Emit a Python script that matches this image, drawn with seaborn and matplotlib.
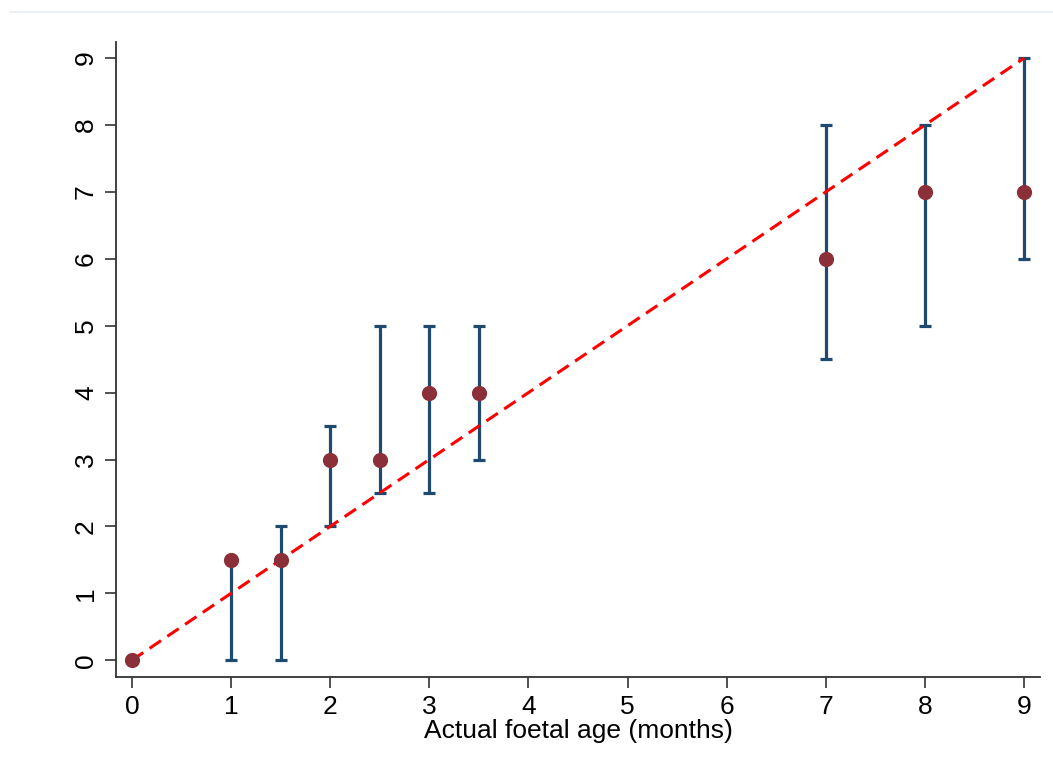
import matplotlib
matplotlib.use("Agg")
import matplotlib.pyplot as plt
import seaborn as sns
import pandas as pd

ages = [0, 1, 1.5, 2, 2.5, 3, 3.5, 7, 8, 9]
estimates = [0, 1.5, 1.5, 3, 3, 4, 4, 6, 7, 7]
lower = [0, 0, 0, 2, 2.5, 2.5, 3, 4.5, 5, 6]
upper = [0, 1.5, 2, 3.5, 5, 5, 5, 8, 8, 9]
ticks = [0, 1, 2, 3, 4, 5, 6, 7, 8, 9]
diag = [0, 9]

sns.set_theme(style="white")
plt.rcParams['font.family'] = ['Liberation Sans', 'DejaVu Sans']

df = pd.DataFrame({"age": ages, "est": estimates, "lo": lower, "hi": upper})

fig = plt.figure(figsize=(10.53, 7.69), dpi=100)
ax = fig.add_axes([116/1053, 1-677/769, (1040-116)/1053, (677-42)/769])

navy = "#1f4a70"
maroon = "#8b3038"

for a, lo, hi in zip(df["age"], df["lo"], df["hi"]):
    ax.plot([a, a], [lo, hi], color=navy, lw=2.3, zorder=2, solid_capstyle="butt")
    for v in (lo, hi):
        ax.plot([a - 0.06, a + 0.06], [v, v], color=navy, lw=2.3, zorder=2, solid_capstyle="butt")

sns.lineplot(x=diag, y=diag, ax=ax, color="#ff0000", lw=2.2, linestyle=(0, (4.5, 2.5)), zorder=3)
sns.scatterplot(data=df, x="age", y="est", ax=ax, color=maroon, s=120, edgecolor=maroon, linewidth=0, zorder=4)

ax.set_xlim(-0.16, 9.16)
ax.set_ylim(-0.25, 9.24)
ax.set_xticks(ticks)
ax.set_yticks(ticks)
ax.set_xticklabels([str(t) for t in ticks], fontsize=19)
ax.set_yticklabels([str(t) for t in ticks], fontsize=19, rotation=90, va="center")
ax.set_xlabel("Actual foetal age (months)", fontsize=19, labelpad=0, color="black")
ax.set_ylabel("")
for s in ["top", "right"]:
    ax.spines[s].set_visible(False)
for s in ["left", "bottom"]:
    ax.spines[s].set_color("#333333")
    ax.spines[s].set_linewidth(1.3)
ax.tick_params(axis="both", direction="out", length=8, width=1.2, color="#333333",
               left=True, bottom=True, pad=5, labelcolor="black")

fig.add_artist(plt.Line2D([10/1053, 1.0], [1-12/769, 1-12/769], color="#e8eef2", lw=1.2, transform=fig.transFigure))

fig.savefig("out.png", dpi=100, facecolor="white")
